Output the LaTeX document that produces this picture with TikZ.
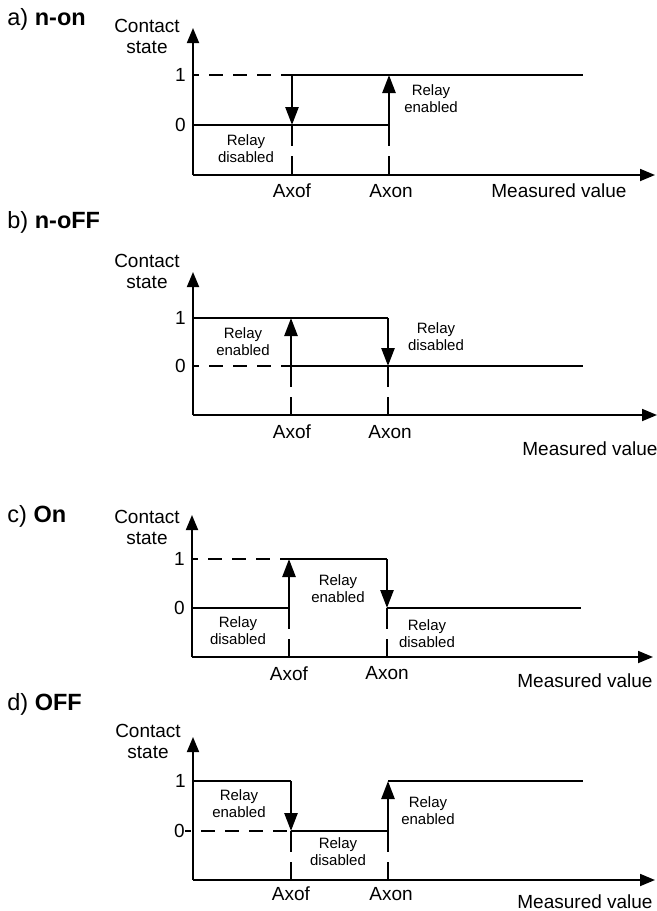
\documentclass[tikz,border=0pt]{standalone}
\usepackage{fontspec}
\setmainfont{Liberation Sans}
\usetikzlibrary{arrows.meta}

\begin{document}
\begin{tikzpicture}[x=0.5pt, y=-0.5pt,
  lvl/.style={line width=1.2pt},
  lvldash/.style={line width=1.2pt, dash pattern=on 7pt off 5pt, dash phase=4pt},
  drop/.style={line width=1.2pt, dash pattern=on 10.5pt off 5pt},
  jump/.style={line width=1.3pt, -{Triangle[length=9pt,width=6.5pt]}},
  axline/.style={line width=0.9pt, -{Triangle[length=7.5pt,width=6pt]}},
  relay/.style={font=\fontsize{7.5}{8.5}\selectfont, align=center, inner sep=0pt},
  lbl/.style={font=\fontsize{9.5}{10.5}\selectfont, inner sep=0pt},
  ttl/.style={font=\fontsize{11.75}{13}\selectfont, anchor=base west, inner sep=0pt}]
\useasboundingbox (0,0) rectangle (657,911);
% a) n-on: off at Axof, on at Axon
\coordinate (aO) at (193,175); \coordinate (aY) at (193,28); \coordinate (aX) at (655,175);
\coordinate (a1s) at (193,75); \coordinate (a0s) at (193,125);
\coordinate (aF1) at (292,75); \coordinate (aF0) at (292,125); \coordinate (aFx) at (292,175);
\coordinate (aN1) at (389,75); \coordinate (aN0) at (389,125); \coordinate (aNx) at (389,175);
\coordinate (a1e) at (583,75);
\node[ttl] (ttlA) at (7,25) {a) \textbf{n-on}};
\node[lbl, align=center] (ystA) at (147,36) {Contact\\state};
\node[lbl, anchor=east] (oneA) at (186,75) {1};
\node[lbl, anchor=east] (zeroA) at (186,125) {0};
\node[lbl, anchor=base] (axofA) at (292,197) {Axof};
\node[lbl, anchor=base] (axonA) at (391,197) {Axon};
\node[lbl, anchor=base] (measA) at (559,197) {Measured value};
\node[relay] (relA1) at (246,149) {Relay\\disabled};
\node[relay] (relA2) at (431,99) {Relay\\enabled};
\draw[axline] (aO) -- (aY); \draw[axline] (aO) -- (aX);
\draw[lvldash] (a1s) -- (aF1); \draw[lvl] (aF1) -- (a1e); \draw[lvl] (a0s) -- (aN0);
\draw[jump] (aF1) -- (aF0); \draw[jump] (aN0) -- (aN1);
\draw[drop] (aF0) -- (aFx); \draw[drop] (aN0) -- (aNx);
% b) n-oFF: on at Axof, off at Axon
\coordinate (bO) at (193,415); \coordinate (bY) at (193,272); \coordinate (bX) at (657,415);
\coordinate (b1s) at (193,318); \coordinate (b0s) at (193,366);
\coordinate (bF1) at (291,318); \coordinate (bF0) at (291,366); \coordinate (bFx) at (291,415);
\coordinate (bN1) at (388,318); \coordinate (bN0) at (388,366); \coordinate (bNx) at (388,415);
\coordinate (b0e) at (583,366);
\node[ttl] (ttlB) at (7,228) {b) \textbf{n-oFF}};
\node[lbl, align=center] (ystB) at (147,271) {Contact\\state};
\node[lbl, anchor=east] (oneB) at (186,318) {1};
\node[lbl, anchor=east] (zeroB) at (186,366) {0};
\node[lbl, anchor=base] (axofB) at (292,438) {Axof};
\node[lbl, anchor=base] (axonB) at (390,438) {Axon};
\node[lbl, anchor=base] (measB) at (590,455) {Measured value};
\node[relay] (relB1) at (243,342) {Relay\\enabled};
\node[relay] (relB2) at (436,337) {Relay\\disabled};
\draw[axline] (bO) -- (bY); \draw[axline] (bO) -- (bX);
\draw[lvl] (b1s) -- (bN1); \draw[lvldash] (b0s) -- (bF0); \draw[lvl] (bF0) -- (b0e);
\draw[jump] (bF0) -- (bF1); \draw[jump] (bN1) -- (bN0);
\draw[drop] (bF0) -- (bFx); \draw[drop] (bN0) -- (bNx);
% c) On: on between Axof and Axon
\coordinate (cO) at (192,657); \coordinate (cY) at (192,515); \coordinate (cX) at (653,657);
\coordinate (c1s) at (192,559); \coordinate (c0s) at (192,608);
\coordinate (cF1) at (289,559); \coordinate (cF0) at (289,608); \coordinate (cFx) at (289,657);
\coordinate (cN1) at (387,559); \coordinate (cN0) at (387,608); \coordinate (cNx) at (387,657);
\coordinate (c0e) at (581,608);
\node[ttl] (ttlC) at (7,522) {c) \textbf{On}};
\node[lbl, align=center] (ystC) at (147,527) {Contact\\state};
\node[lbl, anchor=east] (oneC) at (185,559) {1};
\node[lbl, anchor=east] (zeroC) at (185,608) {0};
\node[lbl, anchor=base] (axofC) at (289,680) {Axof};
\node[lbl, anchor=base] (axonC) at (387,679) {Axon};
\node[lbl, anchor=base] (measC) at (585,687) {Measured value};
\node[relay] (relC1) at (238,631) {Relay\\disabled};
\node[relay] (relC2) at (338,589) {Relay\\enabled};
\node[relay] (relC3) at (427,634) {Relay\\disabled};
\draw[axline] (cO) -- (cY); \draw[axline] (cO) -- (cX);
\draw[lvl] (c0s) -- (cF0); \draw[lvldash] (c1s) -- (cF1); \draw[lvl] (cF1) -- (cN1); \draw[lvl] (cN0) -- (c0e);
\draw[jump] (cF0) -- (cF1); \draw[jump] (cN1) -- (cN0);
\draw[drop] (cF0) -- (cFx); \draw[drop] (cN0) -- (cNx);
% d) OFF: off between Axof and Axon
\coordinate (dO) at (193,880); \coordinate (dY) at (193,737); \coordinate (dX) at (655,880);
\coordinate (d1s) at (193,781); \coordinate (d0s) at (185,831);
\coordinate (dF1) at (291,781); \coordinate (dF0) at (291,831); \coordinate (dFx) at (291,880);
\coordinate (dN1) at (388,781); \coordinate (dN0) at (388,831); \coordinate (dNx) at (388,880);
\coordinate (d1e) at (583,781);
\node[ttl] (ttlD) at (7,710) {d) \textbf{OFF}};
\node[lbl, align=center] (ystD) at (148,741) {Contact\\state};
\node[lbl, anchor=east] (oneD) at (186,781) {1};
\node[lbl, anchor=east] (zeroD) at (185,831) {0};
\node[lbl, anchor=base] (axofD) at (291,900) {Axof};
\node[lbl, anchor=base] (axonD) at (391,900) {Axon};
\node[lbl, anchor=base] (measD) at (585,908) {Measured value};
\node[relay] (relD1) at (239,804) {Relay\\enabled};
\node[relay] (relD2) at (338,852) {Relay\\disabled};
\node[relay] (relD3) at (428,811) {Relay\\enabled};
\draw[axline] (dO) -- (dY); \draw[axline] (dO) -- (dX);
\draw[lvl] (d1s) -- (dF1); \draw[lvldash] (d0s) -- (dF0); \draw[lvl] (dF0) -- (dN0); \draw[lvl] (dN1) -- (d1e);
\draw[jump] (dF1) -- (dF0); \draw[jump] (dN0) -- (dN1);
\draw[drop] (dF0) -- (dFx); \draw[drop] (dN0) -- (dNx);
\end{tikzpicture}
\end{document}
